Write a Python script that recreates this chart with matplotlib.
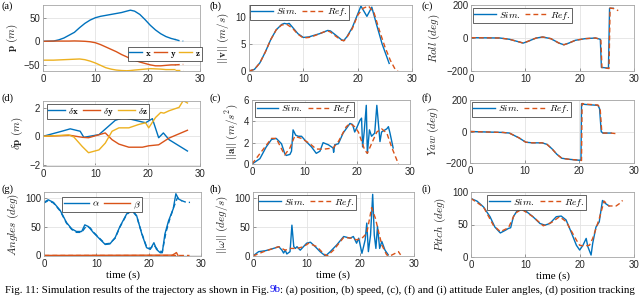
import matplotlib
matplotlib.use('Agg')
import matplotlib.pyplot as plt

# MATLAB default colours
BLUE = '#0072BD'
ORANGE = '#D95319'
YELLOW = '#EDB120'

# (a) position, sim part and dashed reference tail
pos_t = [0, 2, 3, 4, 5, 6, 7, 8, 9, 10, 11, 12, 13, 14, 15, 16, 16.7, 17.5, 18.5, 19.5, 20.5, 21.5, 22.5, 23.5, 24.5, 25.2]
pos_x = [0, 0.5, 3, 7, 13, 19, 29, 38, 45, 50, 53, 55, 57, 59, 61, 64, 66, 64, 57, 46, 34, 24, 16, 10, 6, 4]
pos_y = [0, 0.5, 0.5, 0.5, 0.5, 0.8, 0.5, 0, -1, -3, -7, -12, -17, -22, -28, -33, -37, -40, -44, -47, -50, -52, -52, -51, -50, -50]
pos_z = [-40, -40, -39.5, -39, -38.5, -38, -37.5, -39, -42, -46, -51, -56, -59, -61, -62, -62.5, -62, -61, -60, -59, -58, -58.5, -59, -60, -60, -60]
pos_tail_t = [25.2, 26, 26.8]
pos_tail_x = [4, 1.5, 0.5]
pos_tail_y = [-50, -49.5, -49]
pos_tail_z = [-60, -60, -60]

# (b) speed
vel_sim_t = [0, 1, 2, 3, 4, 5, 6, 6.5, 7, 7.4, 8, 9, 10, 11, 12, 13, 14, 14.5, 15, 16, 17, 17.4, 18, 19, 20, 20.6, 21.7, 22.6, 23.5, 24.5, 25.8]
vel_sim = [0, 0.3, 1.5, 3.5, 5.8, 7.6, 8.6, 8.8, 8.7, 8.8, 8.1, 6.9, 6.2, 6.3, 6.6, 6.9, 7.3, 7.5, 7.4, 6.6, 5.8, 5.6, 6.3, 8.0, 10.5, 12.0, 10.1, 11.8, 8.5, 5.0, 1.4]
vel_ref_t = [0, 1, 2, 3, 4, 5, 6, 7, 8, 9, 10, 11, 12, 13, 14, 14.5, 15, 16, 17, 17.5, 18, 19, 20, 21, 22, 23, 24, 25, 26, 26.8, 27.4]
vel_ref = [0, 0.3, 1.5, 3.5, 5.8, 7.6, 8.5, 8.6, 7.9, 6.8, 6.1, 6.2, 6.5, 6.9, 7.3, 7.4, 7.2, 6.4, 5.7, 5.6, 6.2, 7.8, 10.3, 11.6, 12.0, 10.8, 7.5, 4.5, 2.0, 0.5, 0]

# (c) roll
roll_sim_t = [0, 5.3, 7.1, 9, 9.6, 10.5, 12, 13.2, 14.7, 16.2, 17.1, 18, 19.2, 21, 22.9, 23.8, 24.0, 25.3, 25.5, 26.2]
roll_sim = [2, 0, -8, -25, -31, -20, 0, 6, -4, -31, -41, -31, -14, -4, 0, -8, -178, -183, 180, 180]
roll_ref_t = [0, 5.3, 7.1, 9, 9.6, 10.5, 12, 13.2, 14.7, 16.2, 17.1, 18, 19.2, 21, 22.9, 23.9, 24.1, 25.4, 25.6, 26.3, 27.1]
roll_ref = [2, 0, -8, -25, -31, -20, 0, 6, -4, -31, -41, -31, -14, -4, 0, -8, -180, -185, 182, 178, 166]

# (d) position tracking error
dpx_t = [0, 3.6, 5.2, 7.1, 7.8, 10.7, 13.8, 15.4, 19.6, 20.9, 22.1, 23, 24.1, 27.6]
dpx = [0, 0.36, 0.53, 0.36, -0.07, 0.12, 1.13, 1.33, 0.96, 1.25, -0.1, 0.24, -0.24, -1.04]
dpy_t = [0, 5.2, 7.5, 8.7, 11.9, 13.2, 14.5, 16.4, 19, 20.2, 22.1, 24.1, 27.6]
dpy = [0, 0.07, -0.07, -0.1, 0.24, -0.24, -0.55, -0.77, -0.77, -0.67, -0.6, -0.12, 0.43]
dpz_t = [0, 4.9, 5.9, 7.5, 8.7, 10.7, 11.9, 13.2, 14.5, 16.4, 18.3, 19.6, 20.2, 21.5, 22.5, 23.1, 24.1, 26, 26.8, 27.6]
dpz = [0, 0.1, -0.05, -0.72, -1.16, -0.96, -0.48, 0.36, 0.6, 0.6, 0.84, 0.96, 0.6, 1.33, 1.69, 1.64, 1.81, 2.05, 2.53, 2.36]

# (e) acceleration
acc_sim_t = [0, 1.5, 2.7, 3.7, 4.6, 5.6, 6.2, 6.5, 7.2, 7.5, 7.8, 8.3, 8.8, 9.4, 10.3, 11.3, 12.2, 12.9, 13.5, 14.5, 15.4, 15.5, 15.7, 16.4, 17.3, 18.6, 19.1, 19.5, 19.8, 20.5, 20.8, 21.0, 21.3, 21.7, 21.9, 22.3, 22.7, 23.3, 23.7, 24.0, 24.3, 24.6, 25.6, 25.9, 26.2, 26.8]
acc_sim = [0, 0.5, 1.6, 2.3, 2.4, 1.9, 1.0, 0.8, 0.9, 1.2, 3.2, 2.7, 2.6, 2.6, 2.1, 1.6, 1.0, 1.2, 2.0, 1.8, 1.5, 1.1, 1.8, 1.9, 2.9, 3.8, 3.7, 3.0, 3.3, 4.1, 4.3, 1.6, 3.0, 5.5, 1.0, 3.2, 2.6, 2.9, 5.5, 3.8, 2.1, 3.0, 3.3, 3.5, 2.9, 1.5]
acc_ref_t = [0, 3.7, 4.6, 6.2, 7.2, 8.1, 9.4, 11, 12.2, 13.8, 15.4, 16.4, 17.9, 18.6, 19.5, 20.2, 21.4, 21.9, 22.7, 23.7, 24.6, 25.6, 26.5, 27.8]
acc_ref = [0, 2.4, 2.4, 0.85, 1.5, 2.6, 2.4, 1.9, 1.4, 1.4, 1.5, 2.1, 3.5, 3.8, 3.5, 3.0, 1.3, 1.0, 1.9, 3.0, 3.3, 2.9, 1.6, 0]

# (f) yaw
yaw_sim_t = [0, 6, 7.2, 9, 10.2, 11.4, 13.2, 14.1, 15, 15.9, 16.8, 18, 19.8, 20.3, 20.4, 21, 23.4, 23.7, 24, 24.3, 25.8]
yaw_sim = [0, -6, -10, -41, -68, -72, -72, -82, -110, -145, -170, -176, -182, -182, 176, 172, 166, 145, 0, -10, -10]
yaw_ref_t = [0, 6, 7.2, 9, 10.2, 11.4, 13.2, 14.1, 15, 15.9, 16.8, 18, 19.8, 20.4, 20.5, 21, 23.4, 23.8, 24.1, 24.4, 25.8, 27.1]
yaw_ref = [0, -6, -10, -41, -68, -72, -72, -82, -110, -145, -170, -176, -182, -184, 178, 174, 168, 150, 0, -10, -10, -15]

# (g) angles alpha / beta
alpha_sim_t = [0, 0.8, 1.8, 3.1, 4.3, 5.3, 6.2, 7.2, 7.8, 8.5, 9.4, 10.7, 11.7, 12.6, 13.6, 14.5, 15.8, 16.8, 17.7, 18.7, 19.6, 20.3, 21, 21.5, 22.2, 22.6, 23.1, 23.8, 24.7, 25.2, 25.7, 26.3]
alpha_sim = [92, 96.5, 92, 78, 57, 46, 41.5, 41.5, 53, 50, 40, 28, 19, 20, 31, 50, 72, 79, 69, 37, 13.5, 10.5, 22, 10.5, 4.7, 4.7, 37, 60, 81, 107, 98, 95]
alpha_ref_t = [0, 0.8, 1.8, 3.1, 4.3, 5.3, 6.2, 7.2, 8.0, 8.8, 9.6, 10.7, 11.7, 12.6, 13.6, 14.5, 15.8, 16.8, 17.7, 18.7, 19.6, 20.3, 21, 21.8, 22.6, 23.3, 24.0, 24.8, 25.5, 26.3, 27.2, 27.9]
alpha_ref = [91, 95, 91, 77, 56, 45, 40, 40, 50, 48, 39, 29, 20, 21, 30, 49, 71, 78, 68, 38, 15, 12, 18, 9, 6, 40, 62, 84, 100, 95, 92, 92]
beta_sim_t = [0, 24.5, 25.0, 25.3, 25.6]
beta_sim = [0, 0.5, 3, 5, 0]
beta_ref_t = [0, 27.8]
beta_ref = [0, 0]

# (h) angular rate
w_sim_t = [0, 1.05, 2.3, 3.8, 4.8, 5.4, 5.7, 6, 6.3, 6.9, 7.25, 7.6, 7.9, 8.2, 8.8, 10, 10.7, 11.6, 12.5, 13.5, 14.4, 15.6, 16.9, 18.1, 18.7, 19.3, 19.7, 20.3, 20.6, 20.9, 21.2, 21.5, 21.9, 22.3, 22.6, 22.9, 23.2, 23.6, 24, 24.6, 25.2]
w_sim = [0, 7.5, 9, 13, 16, 10, 5, 10, 3.5, 7.5, 53, 16, 13, 16, 10, 22, 23.7, 16, 7.5, 0, 7.5, 19, 33.5, 30.6, 33.5, 22, 30.6, 4.6, 16, 27.7, 56.6, 7.5, 36, 106, 36, 13, 51, 13, 25, 10, 2]
w_ref_t = [0, 2, 3.8, 4.8, 6, 6.9, 8.2, 9.4, 10.4, 11.9, 13.1, 13.8, 15, 16.9, 18.4, 19.3, 20.3, 21.2, 22.1, 22.8, 23.4, 24, 24.9, 25.5, 26.5, 27.1, 27.5]
w_ref = [0, 7.5, 13, 16, 10, 13, 13, 16, 22, 16, 4.6, 0, 10, 32, 30.6, 27.7, 30.6, 39, 83, 65, 42, 19, 2, 0, 4.6, 7.5, 2]

# (i) pitch
pitch_sim_t = [0, 1.1, 2.3, 3.5, 4.4, 5.4, 6.3, 6.9, 7.3, 7.8, 8.4, 9.3, 10.2, 11.4, 12.7, 13.6, 14.5, 15.7, 16.6, 17.5, 18.4, 19.4, 20, 20.6, 21.2, 21.5, 22.1, 22.4, 23, 23.6, 24.2, 24.8, 25.4]
pitch_sim = [90, 86, 77, 62, 46, 37, 41, 44, 45, 62, 70, 73.5, 70, 62, 51.5, 49, 51.5, 62, 63, 57, 39, 18, 10.7, 18, 28.6, 16, 3, 21, 46, 54, 87, 82, 78.5]
pitch_ref_t = [0, 2.3, 4.1, 5.4, 6.9, 8.1, 9.3, 11.4, 13.3, 14.8, 16.3, 17.5, 19.4, 20, 20.9, 21.8, 22.4, 23.6, 24.5, 25.4, 26.7, 27.3, 27.9]
pitch_ref = [90, 77, 49, 39, 45, 67, 73.5, 62, 48, 53, 62, 54.5, 26, 18, 17, 18, 28.6, 59, 86, 78.5, 78.5, 82, 87]

DASH = (0, (3.5, 2.2))
LW = 1.0

plt.rcParams['font.family'] = ['Liberation Sans', 'DejaVu Sans']
plt.rcParams['mathtext.fontset'] = 'cm'

fig = plt.figure(figsize=(6.4, 2.96), dpi=100)
W, H = 640.0, 296.0
serif = ['Liberation Serif', 'DejaVu Serif']


def make_ax(left, right, top, bottom):
    ax = fig.add_axes([left / W, 1 - bottom / H, (right - left) / W, (bottom - top) / H])
    ax.set_xlim(0, 30)
    ax.set_xticks([0, 10, 20, 30])
    ax.grid(True, color='#e3e3e3', linewidth=0.6)
    ax.set_axisbelow(True)
    for s in ax.spines.values():
        s.set_color('#a6a6a6')
        s.set_linewidth(0.6)
    ax.tick_params(direction='in', length=2, width=0.5, color='#707070',
                   labelsize=7, labelcolor='#262626', pad=2)
    return ax


def ylab(ax, txt):
    ax.set_ylabel(txt, fontsize=8, color='#262626', labelpad=3)


def xlab(ax):
    ax.set_xlabel('time (s)', family=serif, fontsize=8, labelpad=1)


def leg(ax, x, y, ncol=2, fs=7, hl=2.2, cs=0.5):
    lg = ax.legend(loc='upper left', bbox_to_anchor=(x, y), ncol=ncol, fontsize=fs,
                   frameon=True, fancybox=False, framealpha=1, edgecolor='#262626',
                   handlelength=hl, handletextpad=0.3, columnspacing=cs,
                   borderpad=0.15, borderaxespad=0)
    lg.get_frame().set_linewidth(0.5)


# row 1
ax = make_ax(43, 200, 5, 71)
ax.plot(pos_t, pos_x, color=BLUE, lw=LW, label=r'$\mathbf{x}$')
ax.plot(pos_t, pos_y, color=ORANGE, lw=LW, label=r'$\mathbf{y}$')
ax.plot(pos_t, pos_z, color=YELLOW, lw=LW, label=r'$\mathbf{z}$')
ax.plot(pos_tail_t, pos_tail_x, color=BLUE, lw=LW, ls=DASH)
ax.plot(pos_tail_t, pos_tail_y, color=ORANGE, lw=LW, ls=DASH)
ax.plot(pos_tail_t, pos_tail_z, color=YELLOW, lw=LW, ls=DASH)
ax.set_ylim(-63, 77)
ax.set_yticks([-50, 0, 50])
ylab(ax, r'$\mathbf{p}\ (m)$')
leg(ax, 0.54, 0.36, ncol=3, fs=6.5, hl=1.45, cs=0.3)

ax = make_ax(249, 412, 5, 71)
ax.plot(vel_sim_t, vel_sim, color=BLUE, lw=LW, label=r'$Sim.$')
ax.plot(vel_ref_t, vel_ref, color=ORANGE, lw=LW, ls=DASH, label=r'$Ref.$')
ax.set_ylim(0, 12.2)
ax.set_yticks([0, 5, 10])
ylab(ax, r'$||\mathbf{v}||\ (m/s)$')
leg(ax, 0.006, 1.0)

ax = make_ax(471, 634, 5, 71)
ax.plot(roll_sim_t, roll_sim, color=BLUE, lw=LW, label=r'$Sim.$')
ax.plot(roll_ref_t, roll_ref, color=ORANGE, lw=LW, ls=DASH, label=r'$Ref.$')
ax.set_ylim(-200, 200)
ax.set_yticks([-200, 0, 200])
ylab(ax, r'$Roll\ (deg)$')
leg(ax, 0.012, 0.95)

# row 2
ax = make_ax(43, 200, 101, 166)
ax.plot(dpx_t, dpx, color=BLUE, lw=LW, label=r'$\delta\mathbf{x}$')
ax.plot(dpy_t, dpy, color=ORANGE, lw=LW, label=r'$\delta\mathbf{y}$')
ax.plot(dpz_t, dpz, color=YELLOW, lw=LW, label=r'$\delta\mathbf{z}$')
ax.set_ylim(-2.1, 2.5)
ax.set_yticks([-2, 0, 2])
ylab(ax, r'$\delta\mathbf{p}\ (m)$')
leg(ax, 0.025, 0.95, ncol=3, fs=6.5, hl=1.9)

ax = make_ax(252, 410, 100, 164)
ax.plot(acc_sim_t, acc_sim, color=BLUE, lw=LW, label=r'$Sim.$')
ax.plot(acc_ref_t, acc_ref, color=ORANGE, lw=LW, ls=DASH, label=r'$Ref.$')
ax.set_ylim(0, 6)
ax.set_yticks([0, 2, 4, 6])
ylab(ax, r'$||\mathbf{a}||\ (m/s^2)$')
leg(ax, 0.02, 0.97)

ax = make_ax(470, 634, 100, 163)
ax.plot(yaw_sim_t, yaw_sim, color=BLUE, lw=LW, label=r'$Sim.$')
ax.plot(yaw_ref_t, yaw_ref, color=ORANGE, lw=LW, ls=DASH, label=r'$Ref.$')
ax.set_ylim(-200, 200)
ax.set_yticks([-200, 0, 200])
ylab(ax, r'$Yaw\ (deg)$')
leg(ax, 0.012, 0.97)

# row 3
ax = make_ax(44, 201, 192, 256)
ax.plot(alpha_sim_t, alpha_sim, color=BLUE, lw=LW, label=r'$\alpha$')
ax.plot(beta_sim_t, beta_sim, color=ORANGE, lw=LW, label=r'$\beta$')
ax.plot(alpha_ref_t, alpha_ref, color=BLUE, lw=LW, ls=DASH)
ax.plot(beta_ref_t, beta_ref, color=ORANGE, lw=LW, ls=DASH)
ax.set_ylim(-1, 110)
ax.set_yticks([0, 50, 100])
ylab(ax, r'$Angles\ (deg)$')
xlab(ax)
leg(ax, 0.115, 0.92, hl=2.6)

ax = make_ax(253, 414, 192, 256)
ax.plot(w_sim_t, w_sim, color=BLUE, lw=LW, label=r'$Sim.$')
ax.plot(w_ref_t, w_ref, color=ORANGE, lw=LW, ls=DASH, label=r'$Ref.$')
ax.set_ylim(0, 110)
ax.set_yticks([0, 50, 100])
ylab(ax, r'$||\omega||\ (deg/s)$')
xlab(ax)
leg(ax, 0.03, 0.95)

ax = make_ax(471, 634, 192, 257)
ax.plot(pitch_sim_t, pitch_sim, color=BLUE, lw=LW, label=r'$Sim.$')
ax.plot(pitch_ref_t, pitch_ref, color=ORANGE, lw=LW, ls=DASH, label=r'$Ref.$')
ax.set_ylim(0, 100)
ax.set_yticks([0, 50, 100])
ylab(ax, r'$Pitch\ (deg)$')
xlab(ax)
leg(ax, 0.10, 0.95)

# panel letters
panel_pos = [('(a)', 2, 1), ('(b)', 209, 1), ('(c)', 421, 1),
             ('(d)', 2, 93), ('(c)', 209, 93), ('(f)', 421, 93),
             ('(g)', 1, 184), ('(h)', 209, 184), ('(i)', 421, 184)]
for lab, px, py in panel_pos:
    fig.text(px / W, 1 - py / H, lab, family=serif, fontsize=7.5, va='top', ha='left')

# caption (cut off at the bottom in the original)
cap_y = 1 - 285 / H
cap_fs = 7.8
t1 = fig.text(5 / W, cap_y, 'Fig. 11: Simulation results of the trajectory as shown in Fig.',
              family=serif, fontsize=cap_fs, va='top', ha='left')
fig.canvas.draw()
r = fig.canvas.get_renderer()
bb = t1.get_window_extent(r)
t2 = fig.text(bb.x1 / W, cap_y, '9b', family=serif, fontsize=cap_fs, va='top', ha='left', color='#0000ee')
bb2 = t2.get_window_extent(r)
fig.text(bb2.x1 / W, cap_y, ': (a) position, (b) speed, (c), (f) and (i) attitude Euler angles, (d) position tracking',
         family=serif, fontsize=cap_fs, va='top', ha='left')

fig.savefig('out.png', dpi=100)
